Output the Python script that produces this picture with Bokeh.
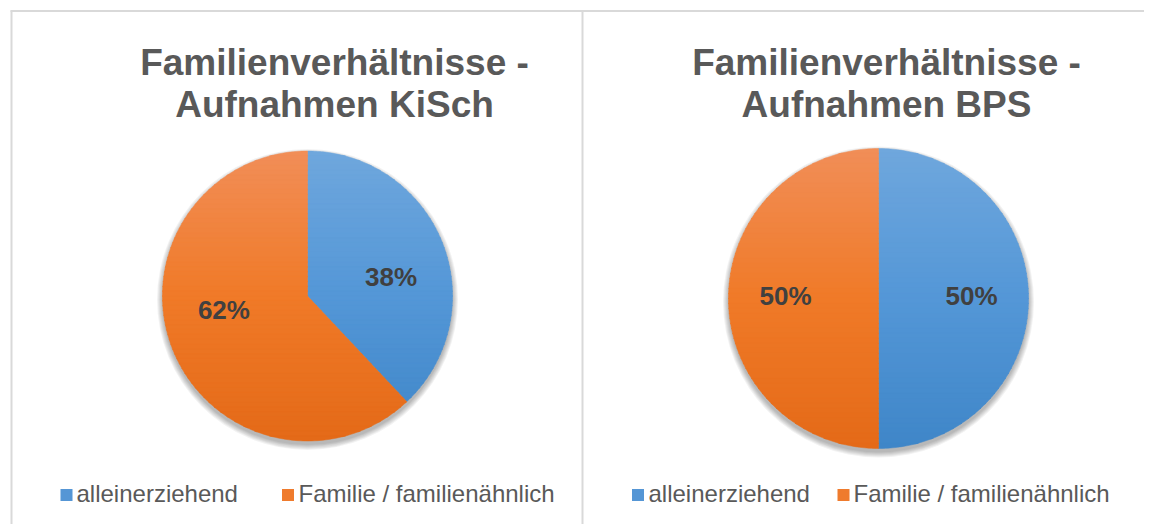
import numpy as np
from bokeh.plotting import figure
from bokeh.models import Range1d
from bokeh.embed import file_html
from bokeh.resources import INLINE
from bokeh.core.properties import value

# ---------------- data ----------------
categories = ["alleinerziehend", "Familie / familienähnlich"]
kisch_values = [38, 62]
bps_values = [50, 50]
chart_titles = [
    ["Familienverhältnisse -", "Aufnahmen KiSch"],
    ["Familienverhältnisse -", "Aufnahmen BPS"],
]

# colour stops (top, middle, bottom) per category
grad_blue = ["#6fa7dd", "#5497d7", "#3f86c8"]
grad_orange = ["#f18e58", "#f07a28", "#e46a18"]
legend_colors = ["#5596d5", "#ef7b2d"]

# ---------------- layout ----------------
W, H = 1144, 524
X0, Y0 = 0, 0
FONT = "Liberation Sans"

panels = [
    dict(values=kisch_values, title=chart_titles[0], cx=307, cy=295.5, r=145,
         tx=334, leg_sq=[66, 287.5], leg_tx=[76, 298]),
    dict(values=bps_values, title=chart_titles[1], cx=878, cy=298, r=150,
         tx=886, leg_sq=[637.5, 843], leg_tx=[648, 853]),
]

p = figure(width=W, height=H, x_range=Range1d(X0, X0 + W), y_range=Range1d(Y0 + H, Y0),
           output_backend="svg", toolbar_location=None,
           x_axis_type=None, y_axis_type=None, min_border=0)
p.outline_line_color = None
p.background_fill_color = "white"
p.border_fill_color = "white"
p.grid.grid_line_color = None

# panel borders
border_col = "#d9d9d9"
p.segment(x0=[11, 10, 582], y0=[10, 10.5, 10], x1=[11, 1160, 582], y1=[540, 10.5, 540],
          line_color=border_col, line_width=2)


def hex2rgb(h):
    h = h.lstrip("#")
    return np.array([int(h[i:i + 2], 16) for i in (0, 2, 4)], dtype=float)


def grad_color(stops, t):
    c = [hex2rgb(s) for s in stops]
    if t <= 0.5:
        a, b, u = c[0], c[1], t / 0.5
    else:
        a, b, u = c[1], c[2], (t - 0.5) / 0.5
    v = a + (b - a) * u
    return "#%02x%02x%02x" % tuple(int(round(x)) for x in v)


def clip_half(pts, yb, keep_greater):
    out = []
    n = len(pts)
    for i in range(n):
        cur, prev = pts[i], pts[i - 1]
        cin = cur[1] >= yb if keep_greater else cur[1] <= yb
        pin = prev[1] >= yb if keep_greater else prev[1] <= yb
        if cin != pin:
            t = (yb - prev[1]) / (cur[1] - prev[1])
            out.append((prev[0] + t * (cur[0] - prev[0]), yb))
        if cin:
            out.append(cur)
    return out


grads = [grad_blue, grad_orange]
NB = 60

for pn in panels:
    cx, cy, r = pn["cx"], pn["cy"], pn["r"]
    vals = pn["values"]
    total = float(sum(vals))

    # soft shadow below the pie
    for k in range(6):
        p.circle(x=[cx], y=[cy + 3.5], radius=r + 0.5 + k * 1.0,
                 fill_color="black", fill_alpha=0.05, line_color=None)

    # slices with vertical gradient (clockwise from 12 o'clock)
    start = 0.0
    mids = []
    for i, v in enumerate(vals):
        a0 = start
        a1 = start + v / total * 2 * np.pi
        start = a1
        mids.append((a0 + a1) / 2)
        th = np.linspace(a0, a1, 200)
        poly = [(cx, cy)] + [(cx + r * np.sin(t), cy - r * np.cos(t)) for t in th]
        xs_list, ys_list, cols = [], [], []
        edges = np.linspace(cy - r, cy + r, NB + 1)
        for b in range(NB):
            yb0, yb1 = edges[b] - 0.4, edges[b + 1] + 0.4
            q = clip_half(poly, yb0, True)
            if len(q) < 3:
                continue
            q = clip_half(q, yb1, False)
            if len(q) < 3:
                continue
            xs_list.append([pt[0] for pt in q])
            ys_list.append([pt[1] for pt in q])
            cols.append(grad_color(grads[i], (b + 0.5) / NB))
        p.patches(xs=xs_list, ys=ys_list, fill_color=cols, line_color=cols, line_width=0.5)

    # data labels
    lx = [cx + 0.62 * r * np.sin(m) for m in mids]
    ly = [cy - 2.5 - 0.31 * r * np.cos(m) for m in mids]
    p.text(x=lx, y=ly, text=["%d%%" % v for v in vals], text_align="center",
           text_baseline="middle", text_font=value(FONT), text_font_style="bold",
           text_font_size="26px", text_color="#404040")

    # title
    p.text(x=[pn["tx"], pn["tx"]], y=[62, 104], text=pn["title"], text_align="center",
           text_baseline="middle", text_font=value(FONT), text_font_style="bold",
           text_font_size="37px", text_color="#595959")

    # legend
    p.rect(x=pn["leg_sq"], y=[494.5, 494.5], width=12, height=12,
           fill_color=legend_colors, line_color=None)
    p.text(x=pn["leg_tx"], y=[493, 493], text=categories, text_align="left",
           text_baseline="middle", text_font=value(FONT),
           text_font_size="24px", text_color="#595959")

open("out.html", "w").write(file_html(p, INLINE))
